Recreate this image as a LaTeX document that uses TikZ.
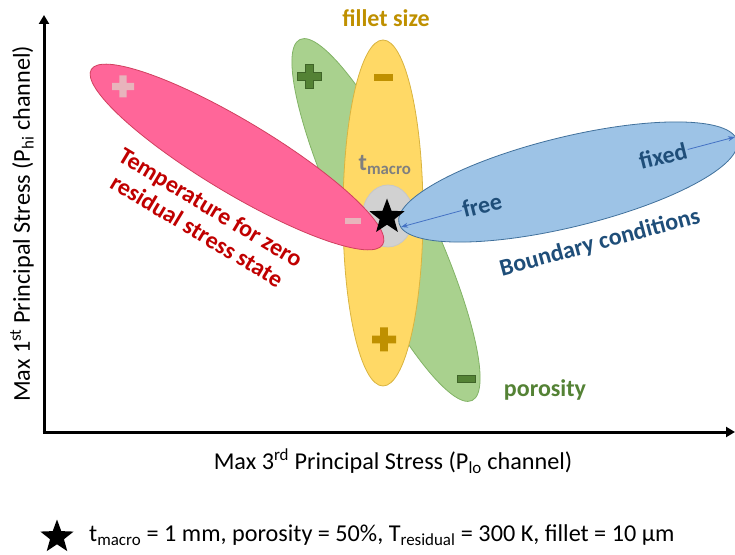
\documentclass[tikz,border=0pt]{standalone}
\usepackage{fontspec}
\setmainfont{Carlito}
\usetikzlibrary{shapes.geometric,arrows.meta}

\definecolor{pinkfill}{HTML}{FF6699}
\definecolor{pinkline}{HTML}{D0405F}
\definecolor{pinkmark}{HTML}{E8B4BC}
\definecolor{greenfill}{HTML}{A9D18E}
\definecolor{greenline}{HTML}{82B366}
\definecolor{greenmark}{HTML}{548235}
\definecolor{greenmarkline}{HTML}{3F6428}
\definecolor{yellowfill}{HTML}{FFD966}
\definecolor{yellowline}{HTML}{D9B440}
\definecolor{gold}{HTML}{BF9000}
\definecolor{bluefill}{HTML}{9DC3E6}
\definecolor{blueline}{HTML}{41719C}
\definecolor{bluetext}{HTML}{1F4E79}
\definecolor{bluearrow}{HTML}{4472C4}
\definecolor{redtext}{HTML}{C00000}
\definecolor{greytext}{HTML}{7F7F7F}

\tikzset{
  x=1pt, y=1pt,
  axisline/.style={line width=3pt, -{Triangle[length=9pt,width=10pt]}},
  axislabel/.style={font=\fontsize{24.2}{28}\selectfont, inner sep=0pt},
  tag/.style={font=\bfseries\fontsize{24}{27}\selectfont, inner sep=1pt},
  lobe/.style={ellipse, line width=0.8pt},
  bcarrow/.style={bluearrow, line width=0.8pt, -{Stealth[length=7pt,width=5pt]}},
  pics/plusmark/.style={code={
    \path[pic actions] (-1,-.33) -- (-.33,-.33) -- (-.33,-1) -- (.33,-1) -- (.33,-.33)
      -- (1,-.33) -- (1,.33) -- (.33,.33) -- (.33,1) -- (-.33,1) -- (-.33,.33) -- (-1,.33) -- cycle;}},
  pics/minusmark/.style={code={
    \path[pic actions] (-1,-.42) rectangle (1,.42);}},
}

\begin{document}
\begin{tikzpicture}
\useasboundingbox (0,0) rectangle (735,554);

% axes
\coordinate (O) at (44,122);
\coordinate (ytop) at (44,539);
\coordinate (xend) at (735,122);
\draw[axisline] (O) -- (ytop);
\draw[axisline] ([xshift=-1.5pt]O) -- (xend);

\node[axislabel, rotate=90] (ylab) at (22,330) {Max 1\textsuperscript{st} Principal Stress (P\textsubscript{hi} channel)};
\node[axislabel] (xlab) at (393,93) {Max 3\textsuperscript{rd} Principal Stress (P\textsubscript{lo} channel)};

% lobes, back to front
\node[lobe, draw=greenline, fill=greenfill, rotate=-64.5, minimum width=400pt, minimum height=84pt] (porlobe) at (386,334) {};
\node[lobe, draw=yellowline, fill=yellowfill, minimum width=80pt, minimum height=346pt] (filletlobe) at (383,341) {};
\node[lobe, draw=black!22, fill=black!18, minimum width=51pt, minimum height=62pt] (hub) at (388,338) {};
\node[lobe, draw=pinkline, fill=pinkfill, rotate=-31, minimum width=340pt, minimum height=72pt] (templobe) at (237,397) {};
\node[lobe, draw=blueline, fill=bluefill, rotate=13.7, minimum width=348pt, minimum height=90pt] (bclobe) at (568,372) {};

% signs
\pic[fill=pinkmark, scale=11] at (123,467.5) {plusmark};
\pic[fill=pinkmark, scale=8] at (353,333) {minusmark};
\pic[fill=greenmark, draw=greenmarkline, line width=0.6pt, scale=12] at (309.5,477.5) {plusmark};
\pic[fill=greenmark, draw=greenmarkline, line width=0.6pt, scale=9] at (466,175) {minusmark};
\pic[fill=gold, scale=9.5] at (383.5,476.5) {minusmark};
\pic[fill=gold, scale=12] at (384,214.5) {plusmark};

% reference point
\node[star, star points=5, star point ratio=2.4, fill=black, minimum size=37pt, inner sep=0pt] (ref) at (387,337) {};

% labels
\node[tag, text=gold] (fillet) at (386,536) {fillet size};
\node[tag, text=greytext] (tmacro) at (385,389) {t\textsubscript{macro}};
\node[tag, text=greenmark] (poro) at (545,164) {porosity};
\node[tag, text=redtext, rotate=-31, align=center] (temp) at (204,335) {Temperature for zero\\residual stress state};
\node[tag, text=bluetext, rotate=15] (bc) at (600,311) {Boundary conditions};
\node[tag, text=bluetext, rotate=14] (free) at (482,349) {free};
\node[tag, text=bluetext, rotate=14] (fixed) at (663,398) {fixed};

\coordinate (freetip) at (401,327);
\coordinate (fixedtip) at (735,417);
\draw[bcarrow] (free) -- (freetip);
\draw[bcarrow] (fixed) -- (fixedtip);

% legend
\node[star, star points=5, star point ratio=2.4, fill=black, minimum size=35pt, inner sep=0pt] (legstar) at (57,17) {};
\node[axislabel, anchor=west] (legtext) at (89,19) {t\textsubscript{macro} = 1 mm, porosity = 50\%, T\textsubscript{residual} = 300 K, fillet = 10 µm};
\end{tikzpicture}
\end{document}
